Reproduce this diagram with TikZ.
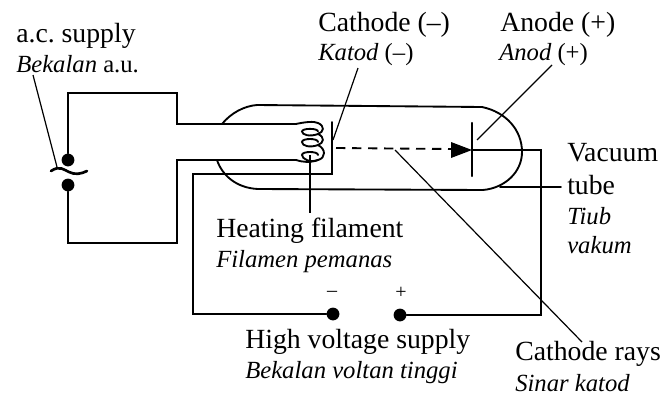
\documentclass[tikz,border=0pt]{standalone}
\usepackage{fontspec}
\setmainfont{Liberation Serif}
\frenchspacing
\tikzset{
  wire/.style={line width=1.4pt,black,line cap=round,line join=miter},
  pointer/.style={line width=0.9pt,black},
  dotnode/.style={circle,fill=black,inner sep=0pt,minimum size=9.6pt},
  lab/.style={anchor=base west,inner sep=0pt,font=\fontsize{20.8}{22}\selectfont},
  ital/.style={anchor=base west,inner sep=0pt,font=\fontsize{18.5}{20}\selectfont\itshape},
  sign/.style={anchor=center,inner sep=0pt,font=\fontsize{15}{16}\selectfont}
}
\begin{document}
\begin{tikzpicture}[x=0.75pt,y=-0.75pt]
\useasboundingbox (0,0) rectangle (667,400);
\fill[white] (0,0) rectangle (667,400);
% labels
\node[lab] (ac) at (16,42) {a.c. supply};
\node[ital] (acm) at (16,72) {Bekalan \upshape a.u.};
\node[lab] (cat) at (318,31) {Cathode (–)};
\node[ital] (catm) at (318,60) {Katod \upshape(–)};
\node[lab] (ano) at (500,31) {Anode (+)};
\node[ital] (anom) at (499,60) {Anod \upshape(+)};
\node[lab] (vac) at (567,161) {Vacuum};
\node[lab] (tub) at (567,194) {tube};
\node[ital] (tiub) at (567,224) {Tiub};
\node[ital] (vak) at (567,253) {vakum};
\node[lab] (heat) at (216,237) {Heating filament};
\node[ital] (film) at (216,267) {Filamen pemanas};
\node[lab] (hv) at (245,348) {High voltage supply};
\node[ital] (hvm) at (245,378) {Bekalan voltan tinggi};
\node[lab] (rays) at (515,360) {Cathode rays};
\node[ital] (raysm) at (515,391) {Sinar katod};
\node[sign] (minus) at (332,294) {–};
\node[sign] (plus) at (401,293) {+};
% terminals
\node[dotnode] (ta) at (68,160) {};
\node[dotnode] (tb) at (68,185) {};
\node[dotnode] (hn) at (333,314) {};
\node[dotnode] (hp) at (400,315) {};
% AC circuit and stem
\draw[wire] (ta) -- (68,93) -- (177,93) -- (177,124) -- (296,124);
\draw[wire] (tb) -- (68,243) -- (177,243) -- (177,160) -- (296,160);
\draw[wire,line width=2pt] (51,171) .. controls (60,165) and (64,170) .. (69,172) .. controls (75,175) and (81,174) .. (87,171);
% bulb
\draw[wire] (222,124) .. controls (231,113) and (244,106) .. (257,105) -- (482,107)
  .. controls (506,112) and (522,130) .. (522,152)
  .. controls (522,172) and (505,188) .. (483,190) -- (258,189)
  .. controls (236,188) and (222,175) .. (217,160);
% filament coil
\draw[wire] (296,124) .. controls (305,122) and (314,121) .. (318,123)
  .. controls (325,126) and (324,132) .. (318,134)
  .. controls (310,137) and (302,135) .. (302,131.5)
  .. controls (302,128) and (318,128) .. (318,131.5);
\draw[wire] (318,134) .. controls (325,137) and (324,143) .. (318,145)
  .. controls (310,148) and (302,146) .. (302,142)
  .. controls (302,138) and (318,138) .. (318,142);
\draw[wire] (318,145) .. controls (326,149) and (326,158) .. (318,160)
  .. controls (310,163) and (302,159) .. (302,155)
  .. controls (302,151) and (318,151) .. (318,155);
\draw[wire] (318,160) .. controls (310,163) and (302,162) .. (296,160);
% cathode plate and HV circuit
\draw[wire] (332,122) -- (332,174) -- (193,174) -- (193,314) -- (hn);
\draw[wire] (hp) -- (541,315) -- (541,150) -- (472,150);
% anode
\draw[wire,line width=1.6pt] (472,123) -- (472,176);
\fill (451,142) -- (472,150) -- (451,158) -- cycle;
\draw[wire,dash pattern=on 7pt off 5pt,line cap=butt] (336,148) -- (451,149);
% pointers
\coordinate (pac) at (57,167);
\coordinate (pcat) at (333,140);
\coordinate (pano) at (477,140);
\coordinate (pfil) at (310,155);
\coordinate (ptub) at (500,187);
\coordinate (pray) at (395,150);
\draw[pointer] (33,75) -- (pac);
\draw[pointer] (358,68) -- (pcat);
\draw[pointer] (552,65) -- (pano);
\draw[pointer] (pfil) -- (310,213);
\draw[wire] (ptub) -- (561,187);
\draw[pointer] (pray) -- (582,342);
\end{tikzpicture}
\end{document}
